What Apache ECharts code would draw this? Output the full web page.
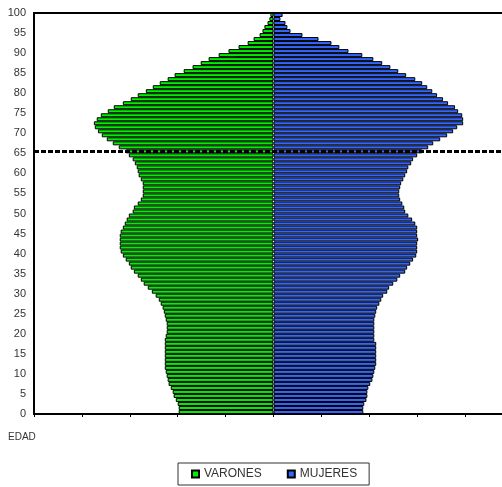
<!DOCTYPE html>
<html>
<head>
<meta charset="utf-8">
<script src="https://cdn.jsdelivr.net/npm/echarts@6/dist/echarts.min.js"></script>
<style>
  html, body { margin: 0; padding: 0; background: #fff; overflow: hidden; }
  #chart { width: 520px; height: 487px; }
</style>
</head>
<body>
<div id="chart"></div>
<script>
// Single-year ages 0..99
const edades = Array.from({ length: 100 }, (_, i) => String(i));

// Share of total population (%) by age, men
const varones = [
  0.396, 0.396, 0.400, 0.408, 0.417, 0.421, 0.429, 0.438, 0.442, 0.446,
  0.450, 0.454, 0.454, 0.454, 0.454, 0.454, 0.454, 0.454, 0.454, 0.450,
  0.446, 0.446, 0.446, 0.450, 0.454, 0.458, 0.463, 0.471, 0.479, 0.492,
  0.508, 0.525, 0.542, 0.554, 0.567, 0.583, 0.596, 0.604, 0.617, 0.629,
  0.638, 0.642, 0.642, 0.642, 0.642, 0.638, 0.629, 0.621, 0.613, 0.604,
  0.588, 0.583, 0.567, 0.554, 0.546, 0.546, 0.546, 0.546, 0.554, 0.563,
  0.567, 0.571, 0.579, 0.588, 0.604, 0.617, 0.646, 0.671, 0.696, 0.717,
  0.733, 0.746, 0.750, 0.738, 0.721, 0.692, 0.667, 0.629, 0.596, 0.567,
  0.533, 0.504, 0.475, 0.442, 0.413, 0.375, 0.338, 0.304, 0.271, 0.229,
  0.188, 0.146, 0.108, 0.083, 0.058, 0.046, 0.038, 0.025, 0.017, 0.013
];

// Share of total population (%) by age, women
const mujeres = [
  0.375, 0.375, 0.379, 0.388, 0.392, 0.392, 0.396, 0.404, 0.413, 0.417,
  0.421, 0.425, 0.429, 0.429, 0.429, 0.429, 0.429, 0.429, 0.421, 0.421,
  0.421, 0.421, 0.421, 0.421, 0.425, 0.429, 0.433, 0.442, 0.450, 0.458,
  0.475, 0.483, 0.500, 0.517, 0.529, 0.550, 0.558, 0.571, 0.583, 0.596,
  0.600, 0.600, 0.600, 0.604, 0.600, 0.600, 0.600, 0.592, 0.579, 0.563,
  0.550, 0.546, 0.538, 0.529, 0.525, 0.525, 0.529, 0.533, 0.542, 0.550,
  0.558, 0.563, 0.575, 0.583, 0.600, 0.621, 0.646, 0.667, 0.696, 0.725,
  0.750, 0.767, 0.792, 0.792, 0.788, 0.771, 0.758, 0.729, 0.708, 0.683,
  0.663, 0.642, 0.621, 0.592, 0.554, 0.521, 0.488, 0.454, 0.417, 0.371,
  0.313, 0.275, 0.242, 0.188, 0.121, 0.071, 0.058, 0.050, 0.029, 0.038
];

// Age that marks the retirement threshold
const edadCorte = 65;

const chart = echarts.init(document.getElementById('chart'), null, { renderer: 'canvas' });

const labelFont = { fontFamily: '"Liberation Sans", Arial, sans-serif', color: '#333' };

chart.setOption({
  animation: false,
  backgroundColor: '#fff',
  grid: {
    left: 34, right: 7, top: 13, bottom: 73,
    show: true, borderColor: '#000', borderWidth: 2, backgroundColor: 'transparent'
  },
  legend: {
    data: ['VARONES', 'MUJERES'],
    left: 178, top: 463,
    orient: 'horizontal',
    icon: 'rect',
    itemWidth: 7, itemHeight: 7,
    itemGap: 25,
    padding: [5, 12, 5, 13],
    borderColor: '#333', borderWidth: 1,
    textStyle: Object.assign({ fontSize: 12 }, labelFont)
  },
  graphic: [{
    type: 'text', left: 8, top: 432,
    style: { text: 'EDAD', fontSize: 10, fill: '#333',
      fontFamily: '"Liberation Sans", Arial, sans-serif' }
  }],
  xAxis: {
    type: 'value', min: -1, max: 1, interval: 0.2,
    axisLine: { show: true, onZero: false, lineStyle: { color: '#000', width: 2 } },
    axisTick: { show: true, length: 3, lineStyle: { color: '#000', width: 1 } },
    axisLabel: { show: false },
    splitLine: { show: false }
  },
  yAxis: [{
    type: 'category', data: edades, boundaryGap: true,
    axisLine: { show: false }, axisTick: { show: false },
    axisLabel: { show: false }, splitLine: { show: false }
  }, {
    type: 'value', min: 0, max: 100, interval: 5, position: 'left',
    axisLine: { show: true, lineStyle: { color: '#000', width: 2 } },
    axisTick: { show: false },
    axisLabel: Object.assign({ fontSize: 11, margin: 8 }, labelFont),
    splitLine: { show: false }
  }],
  series: [{
    name: 'VARONES', type: 'bar', stack: 'pir', yAxisIndex: 0,
    barCategoryGap: 0,
    data: varones.map(v => -v),
    itemStyle: { color: '#00ee00', borderColor: '#000', borderWidth: 1 }
  }, {
    name: 'MUJERES', type: 'bar', stack: 'pir', yAxisIndex: 0,
    barCategoryGap: 0,
    data: mujeres,
    itemStyle: { color: '#3366ff', borderColor: '#000', borderWidth: 1 },
    markLine: {
      silent: true, symbol: 'none', z: 10,
      label: { show: false },
      lineStyle: { color: '#000', width: 3, type: [5, 2] },
      data: [{ yAxis: edadCorte }]
    }
  }]
});
</script>
</body>
</html>
